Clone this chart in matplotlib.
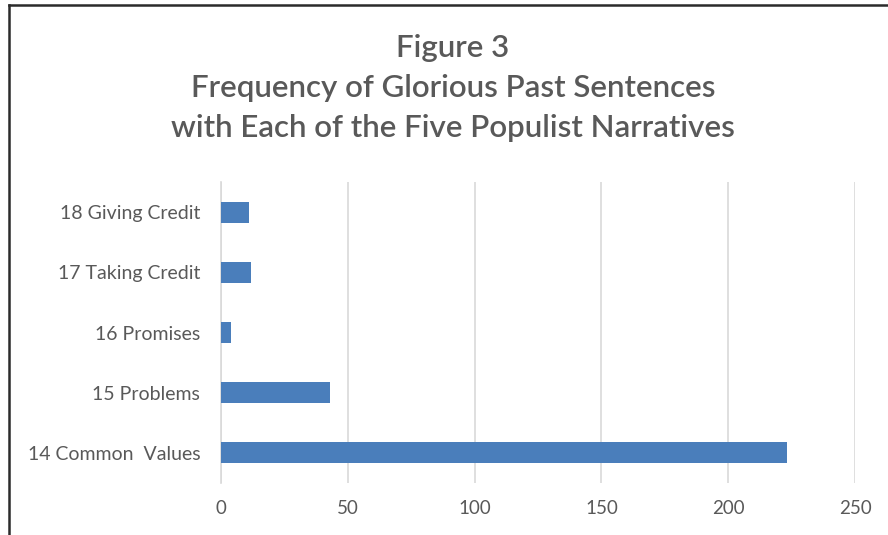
import matplotlib.pyplot as plt
from matplotlib.lines import Line2D

# Narrative categories, bottom to top as they appear on the chart
narratives = ["14 Common  Values", "15 Problems", "16 Promises",
              "17 Taking Credit", "18 Giving Credit"]
counts = [223, 43, 4, 12, 11]
x_ticks = [0, 50, 100, 150, 200, 250]

title_lines = ["Figure 3",
               "Frequency of Glorious Past Sentences",
               "with Each of the Five Populist Narratives"]

plt.rcParams['font.family'] = ['Lato', 'DejaVu Sans']
text_color = "#595959"
grid_color = "#d9d9d9"
bar_color = "#4a7ebb"

fig = plt.figure(figsize=(8.88, 5.35), dpi=100)
ax = fig.add_axes([221 / 888, 1 - 483 / 535, (855 - 221) / 888, (483 - 182) / 535])

ypos = list(range(len(narratives)))
ax.barh(ypos, counts, height=0.35, color=bar_color, zorder=3)

ax.set_xlim(0, 250)
ax.set_ylim(-0.5, len(narratives) - 0.5)
ax.set_xticks(x_ticks)
ax.set_yticks(ypos)
ax.set_yticklabels(narratives)
ax.tick_params(axis='both', length=0, colors=text_color)
ax.tick_params(axis='y', pad=15, labelsize=14)
ax.tick_params(axis='x', pad=12, labelsize=13.5)
ax.grid(axis='x', color=grid_color, linewidth=1.2, zorder=0)
for side in ['top', 'right', 'bottom']:
    ax.spines[side].set_visible(False)
ax.spines['left'].set_color(grid_color)
ax.spines['left'].set_linewidth(1.2)

# three centred title lines
for i, line in enumerate(title_lines):
    fig.text(453 / 888, 1 - (48 + 40 * i) / 535, line, ha='center', va='center',
             fontsize=22.5, fontweight='semibold', color=text_color)

# outer frame: top edge and left edge
fig.add_artist(Line2D([9 / 888, 1.0], [1 - 5 / 535, 1 - 5 / 535],
                      transform=fig.transFigure, color="#2b2b2b", linewidth=1.8))
fig.add_artist(Line2D([9 / 888, 9 / 888], [0.0, 1 - 5 / 535],
                      transform=fig.transFigure, color="#2b2b2b", linewidth=1.8))

fig.savefig("out.png", dpi=100, facecolor="white")
